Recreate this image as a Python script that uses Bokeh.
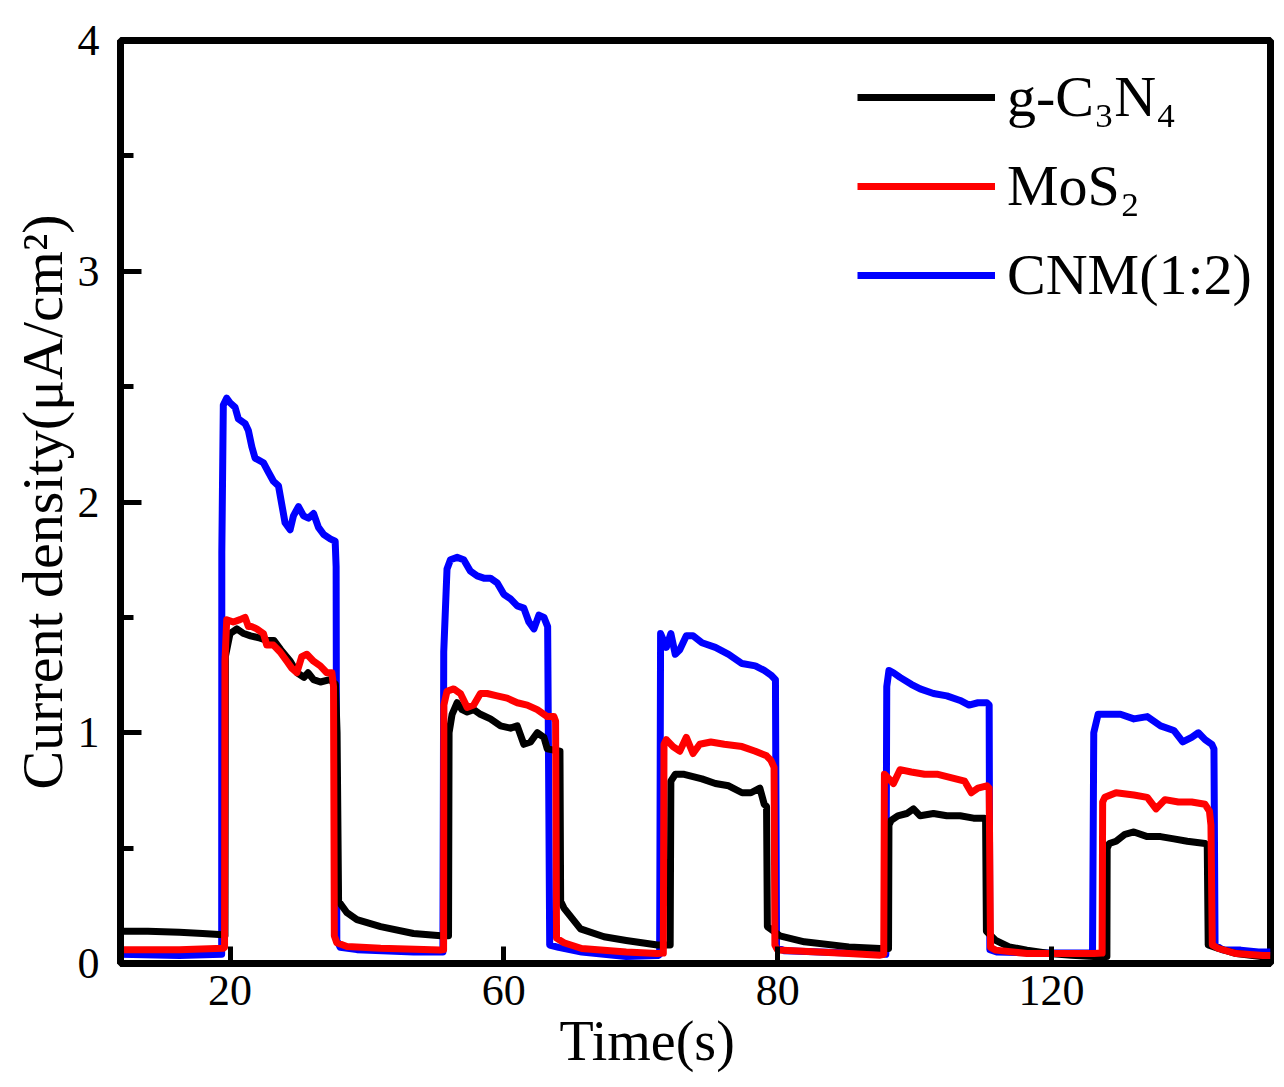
from bokeh.plotting import figure
from bokeh.models import FixedTicker, Legend, LegendItem, Range1d, Title
from bokeh.embed import file_html
from bokeh.resources import INLINE

FONT = "Liberation Serif"

# tick marks sit evenly on the axis, printed with the labels of the original figure
x_ticks = [20, 40, 60, 80]
x_tick_labels = ["20", "60", "80", "120"]
y_ticks = [0, 1, 2, 3, 4]
y_minor = [0.5, 1.5, 2.5, 3.5]

names = ["g-C₃N₄", "MoS₂", "CNM(1:2)"]
colors = ["black", "red", "blue"]

# (time, current density)
gcn = [(12.0, 0.14), (14.0, 0.14), (16.3, 0.135), (18.0, 0.13), (19.5, 0.125), (19.63, 0.12),
       (19.66, 1.33), (20.0, 1.43), (20.5, 1.45), (21.0, 1.43), (21.5, 1.42), (22.2, 1.41),
       (22.7, 1.40), (23.2, 1.40), (23.7, 1.36), (24.4, 1.31), (24.9, 1.26), (25.4, 1.24),
       (25.7, 1.26), (26.1, 1.23), (26.6, 1.22), (27.3, 1.23), (27.7, 1.21), (27.82, 1.0),
       (27.93, 0.27), (28.05, 0.26), (28.54, 0.22), (29.27, 0.19), (31.0, 0.16), (33.4, 0.13),
       (35.4, 0.12), (35.96, 0.12), (36.0, 1.0), (36.22, 1.08), (36.59, 1.13), (36.95, 1.10),
       (37.32, 1.09), (37.8, 1.10), (38.29, 1.08), (39.02, 1.06), (39.76, 1.03), (40.49, 1.02),
       (40.98, 1.03), (41.46, 0.95), (41.95, 0.96), (42.44, 1.0), (42.93, 0.98), (43.17, 0.93),
       (44.1, 0.92), (44.15, 0.27), (44.39, 0.24), (45.6, 0.15), (47.32, 0.116), (48.94, 0.10),
       (51.22, 0.08), (52.15, 0.08), (52.2, 0.79), (52.52, 0.82), (53.17, 0.82), (53.82, 0.81),
       (54.47, 0.80), (55.45, 0.78), (56.42, 0.77), (57.4, 0.74), (58.05, 0.74), (58.7, 0.76),
       (59.02, 0.69), (59.19, 0.68), (59.25, 0.16), (60.16, 0.12), (61.95, 0.094), (65.2, 0.072),
       (67.48, 0.065), (68.1, 0.065), (68.13, 0.60), (68.29, 0.62), (68.78, 0.64), (69.43, 0.65),
       (69.92, 0.67), (70.41, 0.64), (71.38, 0.65), (72.36, 0.64), (73.33, 0.64), (74.31, 0.63),
       (75.12, 0.63), (75.19, 0.62), (75.25, 0.14), (75.93, 0.10), (76.91, 0.072), (78.21, 0.058),
       (79.84, 0.043), (81.46, 0.036), (83.09, 0.03), (84.05, 0.03), (84.07, 0.50), (84.23, 0.52),
       (84.72, 0.53), (85.37, 0.56), (86.02, 0.57), (87.0, 0.55), (87.97, 0.55), (88.94, 0.54),
       (89.92, 0.53), (91.22, 0.52), (91.38, 0.51), (91.45, 0.08), (92.2, 0.065), (93.5, 0.043),
       (95.45, 0.029), (96.0, 0.028)]

mos2 = [(12.0, 0.06), (16.3, 0.06), (19.5, 0.066), (19.6, 0.07), (19.63, 1.31), (19.76, 1.49),
        (20.24, 1.48), (20.73, 1.49), (21.1, 1.50), (21.34, 1.46), (21.59, 1.46), (21.95, 1.45),
        (22.44, 1.43), (22.68, 1.38), (23.17, 1.38), (23.66, 1.35), (24.15, 1.31), (24.51, 1.28),
        (24.88, 1.26), (25.24, 1.33), (25.61, 1.34), (26.1, 1.31), (26.59, 1.29), (27.07, 1.26),
        (27.44, 1.26), (27.56, 1.2), (27.62, 0.12), (27.8, 0.09), (28.54, 0.074), (31.0, 0.066),
        (35.37, 0.058), (35.6, 0.06), (35.62, 1.12), (35.85, 1.18), (36.34, 1.19), (36.83, 1.17),
        (37.32, 1.11), (37.8, 1.12), (38.29, 1.17), (38.78, 1.17), (39.51, 1.16), (40.24, 1.15),
        (40.98, 1.13), (41.71, 1.12), (42.44, 1.10), (43.17, 1.07), (43.66, 1.07), (43.78, 1.05),
        (43.85, 0.11), (44.39, 0.09), (45.69, 0.065), (48.94, 0.05), (51.22, 0.043), (51.65, 0.045),
        (51.7, 0.95), (51.87, 0.97), (52.36, 0.94), (52.85, 0.92), (53.33, 0.98), (53.82, 0.91),
        (54.31, 0.95), (55.12, 0.96), (56.1, 0.95), (57.4, 0.94), (58.37, 0.92), (59.19, 0.90),
        (59.51, 0.88), (59.74, 0.85), (59.8, 0.08), (60.0, 0.058), (65.2, 0.043), (67.48, 0.036),
        (67.75, 0.04), (67.8, 0.82), (68.46, 0.78), (68.94, 0.84), (69.76, 0.83), (70.73, 0.82),
        (71.71, 0.82), (73.01, 0.80), (73.66, 0.79), (74.15, 0.74), (74.63, 0.76), (75.28, 0.77),
        (75.45, 0.76), (75.55, 0.07), (75.93, 0.058), (78.21, 0.043), (83.09, 0.043), (83.7, 0.045),
        (83.74, 0.70), (83.9, 0.72), (84.72, 0.74), (86.02, 0.73), (87.0, 0.72), (87.64, 0.67),
        (88.29, 0.71), (89.27, 0.70), (90.24, 0.70), (91.22, 0.69), (91.54, 0.66), (91.65, 0.6),
        (91.75, 0.08), (92.2, 0.065), (93.5, 0.043), (95.45, 0.035), (96.0, 0.035)]

cnm = [(12.0, 0.04), (16.3, 0.035), (19.39, 0.04), (19.4, 1.78), (19.51, 2.42), (19.76, 2.45),
       (20.0, 2.43), (20.37, 2.41), (20.61, 2.36), (21.1, 2.34), (21.34, 2.31), (21.59, 2.24),
       (21.83, 2.19), (22.44, 2.17), (22.8, 2.13), (23.17, 2.09), (23.54, 2.07), (23.78, 1.99),
       (24.02, 1.91), (24.39, 1.88), (24.63, 1.94), (25.0, 1.98), (25.37, 1.94), (25.73, 1.93),
       (26.1, 1.95), (26.46, 1.89), (26.83, 1.86), (27.32, 1.84), (27.68, 1.83), (27.75, 1.72),
       (27.8, 0.10), (28.05, 0.07), (29.27, 0.06), (33.41, 0.05), (35.55, 0.05), (35.61, 1.35),
       (35.85, 1.71), (36.1, 1.75), (36.59, 1.76), (37.07, 1.75), (37.56, 1.70), (38.05, 1.68),
       (38.54, 1.67), (39.02, 1.67), (39.51, 1.65), (40.0, 1.60), (40.49, 1.58), (40.98, 1.55),
       (41.46, 1.54), (41.83, 1.48), (42.2, 1.45), (42.56, 1.51), (42.93, 1.50), (43.2, 1.46),
       (43.29, 0.65), (43.35, 0.08), (44.0, 0.07), (45.69, 0.05), (48.94, 0.03), (51.3, 0.035),
       (51.38, 0.04), (51.45, 1.43), (51.87, 1.37), (52.2, 1.43), (52.52, 1.34), (52.85, 1.36),
       (53.33, 1.42), (53.82, 1.42), (54.47, 1.39), (55.45, 1.37), (56.42, 1.34), (57.4, 1.30),
       (58.37, 1.29), (59.02, 1.27), (59.51, 1.25), (59.84, 1.23), (59.92, 0.07), (60.5, 0.055),
       (65.2, 0.045), (67.9, 0.04), (67.97, 1.2), (68.13, 1.27), (68.46, 1.26), (68.94, 1.24),
       (69.76, 1.21), (70.41, 1.19), (71.38, 1.17), (72.36, 1.16), (73.33, 1.14), (73.98, 1.12),
       (74.63, 1.13), (75.28, 1.13), (75.45, 1.12), (75.5, 0.06), (76.0, 0.05), (79.84, 0.045),
       (83.0, 0.045), (83.09, 1.0), (83.41, 1.08), (84.07, 1.08), (85.04, 1.08), (86.02, 1.06),
       (87.0, 1.07), (87.97, 1.03), (88.94, 1.01), (89.59, 0.96), (90.24, 0.98), (90.73, 1.00),
       (91.22, 0.97), (91.71, 0.95), (91.87, 0.93), (91.95, 0.08), (92.5, 0.06), (93.82, 0.058),
       (95.12, 0.05), (96.0, 0.05)]

p = figure(frame_width=1150, frame_height=923,
           min_border_left=120, min_border_right=6, min_border_top=40, min_border_bottom=110,
           x_range=Range1d(12, 96), y_range=Range1d(0, 4),
           output_backend="svg", toolbar_location=None)
p.background_fill_color = "white"
p.border_fill_color = "white"
p.grid.visible = False
p.outline_line_color = "black"
p.outline_line_width = 7

# blue underneath, red drawn last (as in the original)
renderers = {}
for name, color, series in [(names[2], colors[2], cnm), (names[0], colors[0], gcn), (names[1], colors[1], mos2)]:
    t, j = zip(*series)
    renderers[name] = p.line(list(t), list(j), line_color=color, line_width=7, line_join="round")

# axes: ticks pointing inward
xa = p.xaxis[0]
xa.ticker = FixedTicker(ticks=x_ticks, minor_ticks=[])
xa.major_label_overrides = {t: lab for t, lab in zip(x_ticks, x_tick_labels)}
ya = p.yaxis[0]
ya.ticker = FixedTicker(ticks=y_ticks, minor_ticks=y_minor)

for ax in (xa, ya):
    ax.axis_line_width = 7
    ax.axis_line_color = "black"
    ax.major_tick_out = 0
    ax.minor_tick_out = 0
    ax.major_tick_line_width = 5
    ax.minor_tick_line_width = 5
    ax.major_label_text_font = FONT
    ax.major_label_text_font_size = "44px"
    ax.major_label_text_color = "black"
    ax.axis_label_text_font = FONT
    ax.axis_label_text_font_style = "normal"
    ax.axis_label_text_font_size = "58px"
    ax.axis_label_text_color = "black"

xa.major_tick_in = 17
xa.minor_tick_in = 0
xa.major_label_standoff = 12
ya.major_tick_in = 21
ya.minor_tick_in = 13
ya.major_label_standoff = 21
ya.axis_label = "Current density(μA/cm²)"
ya.axis_label_standoff = 0

# x title sits between the 60 and 80 ticks in the original, left of the frame centre
p.add_layout(Title(text="Time(s)", align="left", offset=439, standoff=0,
                   text_font=FONT, text_font_size="56px", text_font_style="normal",
                   text_color="black"), "below")

legend = Legend(items=[LegendItem(label=n, renderers=[renderers[n]]) for n in names],
                location=(737, 655), orientation="vertical",
                glyph_width=138, glyph_height=60, label_height=60, spacing=22,
                label_standoff=12, padding=0, margin=0,
                label_text_font=FONT, label_text_font_size="58px", label_text_color="black",
                border_line_color=None, background_fill_alpha=0)
p.add_layout(legend)

open("out.html", "w").write(file_html(p, INLINE))
